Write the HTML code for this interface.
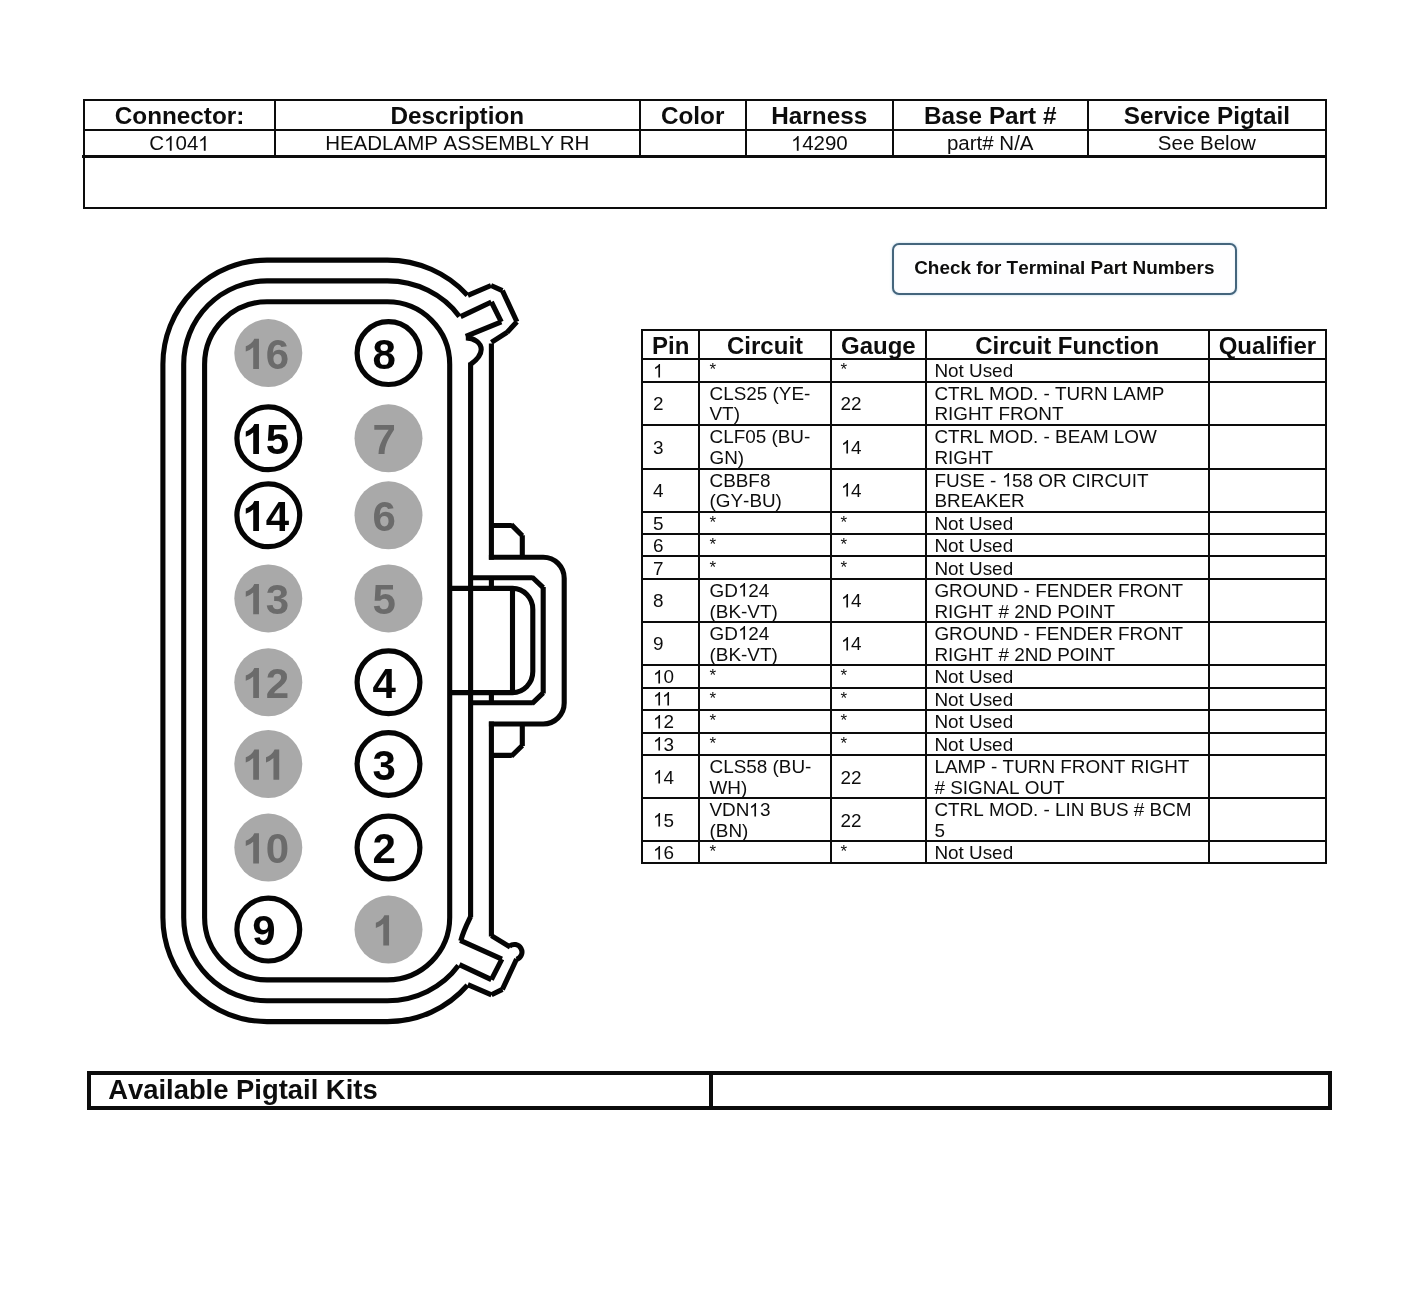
<!DOCTYPE html>
<html lang="en">
<head>
<meta charset="utf-8">
<title>C1041 HEADLAMP ASSEMBLY RH</title>
<style>
html,body{margin:0;padding:0;background:#fff;}
body{width:1406px;height:1300px;position:relative;overflow:hidden;font-family:"Liberation Sans",sans-serif;color:#0d0d0d;font-kerning:none;}
#page{position:absolute;left:0;top:0;width:1406px;height:1300px;background:#fff;transform:translateZ(0);will-change:transform;}
.l{position:absolute;}
.c{position:absolute;display:flex;align-items:center;white-space:nowrap;box-sizing:border-box;}
.th{justify-content:center;font-weight:bold;font-size:24px;line-height:27.6px;padding-top:2px;}
.th.t1{font-size:24.3px;padding-top:1.4px;}
.tv{justify-content:center;font-size:20.5px;line-height:23.5px;}
.td{font-size:18.9px;line-height:20.7px;padding-top:2.6px;}
.g1{display:inline-block;width:0.55615em;height:0.71875em;vertical-align:baseline;fill:currentColor;overflow:visible;}
.g1.k{margin-left:-0.074em;}
.ast{font-size:17px;padding-top:0.6px;}
.kit{font-weight:bold;font-size:27.4px;line-height:31px;}
.btn{position:absolute;left:891.5px;top:242.8px;width:345.7px;height:52.2px;box-sizing:border-box;border:2px solid #44657c;border-radius:7px;background:#fefeff;box-shadow:0 0 2.5px rgba(110,165,210,0.55),inset 0 0 2px rgba(110,165,210,0.22);font-weight:bold;font-size:18.9px;line-height:46.4px;text-align:center;white-space:nowrap;}
.conn{position:absolute;left:0;top:0;}
</style>
</head>
<body>
<div id="page">
<!-- connector header table -->
<div class="l" style="left:83.00px;top:99.10px;width:1243.90px;height:2.20px;background:#0c0c0c"></div>
<div class="l" style="left:83.00px;top:128.80px;width:1243.90px;height:2.00px;background:#0c0c0c"></div>
<div class="l" style="left:82.00px;top:155.00px;width:1244.90px;height:3.00px;background:#0c0c0c"></div>
<div class="l" style="left:83.00px;top:206.50px;width:1243.90px;height:2.00px;background:#0c0c0c"></div>
<div class="l" style="left:83.00px;top:100.20px;width:2.00px;height:107.30px;background:#0c0c0c"></div>
<div class="l" style="left:1324.90px;top:100.20px;width:2.00px;height:107.30px;background:#0c0c0c"></div>
<div class="l" style="left:274.10px;top:100.20px;width:2.00px;height:56.30px;background:#0c0c0c"></div>
<div class="l" style="left:638.50px;top:100.20px;width:2.00px;height:56.30px;background:#0c0c0c"></div>
<div class="l" style="left:744.80px;top:100.20px;width:2.00px;height:56.30px;background:#0c0c0c"></div>
<div class="l" style="left:891.70px;top:100.20px;width:2.00px;height:56.30px;background:#0c0c0c"></div>
<div class="l" style="left:1086.80px;top:100.20px;width:2.00px;height:56.30px;background:#0c0c0c"></div>
<div class="c th t1" style="left:84.0px;width:191.1px;top:100.2px;height:29.6px">Connector:</div>
<div class="c tv" style="left:84.0px;width:191.1px;top:129.8px;height:26.7px"><span>C<svg class="g1" viewBox="0 -1472 1139 1472"><path transform="scale(1,-1)" d="M763 0H583V1147Q518 1085 412.5 1023Q307 961 223 930V1104Q374 1175 487 1276Q600 1377 647 1472H763V0Z"/></svg>04<svg class="g1" viewBox="0 -1472 1139 1472"><path transform="scale(1,-1)" d="M763 0H583V1147Q518 1085 412.5 1023Q307 961 223 930V1104Q374 1175 487 1276Q600 1377 647 1472H763V0Z"/></svg></span></div>
<div class="c th t1" style="left:275.1px;width:364.4px;top:100.2px;height:29.6px">Description</div>
<div class="c tv" style="left:275.1px;width:364.4px;top:129.8px;height:26.7px"><span>HEADLAMP ASSEMBLY RH</span></div>
<div class="c th t1" style="left:639.5px;width:106.3px;top:100.2px;height:29.6px">Color</div>
<div class="c th t1" style="left:745.8px;width:146.9px;top:100.2px;height:29.6px">Harness</div>
<div class="c tv" style="left:745.8px;width:146.9px;top:129.8px;height:26.7px"><span><svg class="g1" viewBox="0 -1472 1139 1472"><path transform="scale(1,-1)" d="M763 0H583V1147Q518 1085 412.5 1023Q307 961 223 930V1104Q374 1175 487 1276Q600 1377 647 1472H763V0Z"/></svg>4290</span></div>
<div class="c th t1" style="left:892.7px;width:195.1px;top:100.2px;height:29.6px">Base Part #</div>
<div class="c tv" style="left:892.7px;width:195.1px;top:129.8px;height:26.7px"><span>part# N/A</span></div>
<div class="c th t1" style="left:1087.8px;width:238.1px;top:100.2px;height:29.6px">Service Pigtail</div>
<div class="c tv" style="left:1087.8px;width:238.1px;top:129.8px;height:26.7px"><span>See Below</span></div>
<!-- terminal part numbers button -->
<div class="btn">Check for Terminal Part Numbers</div>
<!-- pin table -->
<div class="l" style="left:641.30px;top:328.90px;width:685.90px;height:2.00px;background:#0c0c0c"></div>
<div class="l" style="left:641.30px;top:358.30px;width:685.90px;height:2.00px;background:#0c0c0c"></div>
<div class="l" style="left:641.30px;top:380.60px;width:685.90px;height:2.00px;background:#0c0c0c"></div>
<div class="l" style="left:641.30px;top:423.60px;width:685.90px;height:2.00px;background:#0c0c0c"></div>
<div class="l" style="left:641.30px;top:467.60px;width:685.90px;height:2.00px;background:#0c0c0c"></div>
<div class="l" style="left:641.30px;top:510.50px;width:685.90px;height:2.00px;background:#0c0c0c"></div>
<div class="l" style="left:641.30px;top:532.80px;width:685.90px;height:2.00px;background:#0c0c0c"></div>
<div class="l" style="left:641.30px;top:555.30px;width:685.90px;height:2.00px;background:#0c0c0c"></div>
<div class="l" style="left:641.30px;top:577.90px;width:685.90px;height:2.00px;background:#0c0c0c"></div>
<div class="l" style="left:641.30px;top:620.60px;width:685.90px;height:2.00px;background:#0c0c0c"></div>
<div class="l" style="left:641.30px;top:664.10px;width:685.90px;height:2.00px;background:#0c0c0c"></div>
<div class="l" style="left:641.30px;top:686.70px;width:685.90px;height:2.00px;background:#0c0c0c"></div>
<div class="l" style="left:641.30px;top:709.00px;width:685.90px;height:2.00px;background:#0c0c0c"></div>
<div class="l" style="left:641.30px;top:731.50px;width:685.90px;height:2.00px;background:#0c0c0c"></div>
<div class="l" style="left:641.30px;top:753.90px;width:685.90px;height:2.00px;background:#0c0c0c"></div>
<div class="l" style="left:641.30px;top:797.40px;width:685.90px;height:2.00px;background:#0c0c0c"></div>
<div class="l" style="left:641.30px;top:840.10px;width:685.90px;height:2.00px;background:#0c0c0c"></div>
<div class="l" style="left:641.30px;top:862.40px;width:685.90px;height:2.00px;background:#0c0c0c"></div>
<div class="l" style="left:641.30px;top:328.90px;width:2.00px;height:535.50px;background:#0c0c0c"></div>
<div class="l" style="left:698.10px;top:328.90px;width:2.00px;height:535.50px;background:#0c0c0c"></div>
<div class="l" style="left:830.00px;top:328.90px;width:2.00px;height:535.50px;background:#0c0c0c"></div>
<div class="l" style="left:924.70px;top:328.90px;width:2.00px;height:535.50px;background:#0c0c0c"></div>
<div class="l" style="left:1207.60px;top:328.90px;width:2.00px;height:535.50px;background:#0c0c0c"></div>
<div class="l" style="left:1325.20px;top:328.90px;width:2.00px;height:535.50px;background:#0c0c0c"></div>
<div class="c th" style="left:642.3px;width:56.8px;top:329.9px;height:29.4px">Pin</div>
<div class="c th" style="left:699.1px;width:131.9px;top:329.9px;height:29.4px">Circuit</div>
<div class="c th" style="left:831.0px;width:94.7px;top:329.9px;height:29.4px">Gauge</div>
<div class="c th" style="left:925.7px;width:282.9px;top:329.9px;height:29.4px">Circuit Function</div>
<div class="c th" style="left:1208.6px;width:117.6px;top:329.9px;height:29.4px">Qualifier</div>
<div class="c td" style="left:653.1px;top:359.3px;height:22.3px"><span><svg class="g1" viewBox="0 -1472 1139 1472"><path transform="scale(1,-1)" d="M763 0H583V1147Q518 1085 412.5 1023Q307 961 223 930V1104Q374 1175 487 1276Q600 1377 647 1472H763V0Z"/></svg></span></div>
<div class="c td ast" style="left:709.5px;top:359.3px;height:22.3px"><span>*</span></div>
<div class="c td ast" style="left:840.6px;top:359.3px;height:22.3px"><span>*</span></div>
<div class="c td" style="left:934.4px;top:359.3px;height:22.3px"><span>Not Used</span></div>
<div class="c td" style="left:653.1px;top:381.6px;height:43.0px"><span>2</span></div>
<div class="c td" style="left:709.5px;top:381.6px;height:43.0px"><span>CLS25 (YE-<br>VT)</span></div>
<div class="c td" style="left:840.6px;top:381.6px;height:43.0px"><span>22</span></div>
<div class="c td" style="left:934.4px;top:381.6px;height:43.0px"><span>CTRL MOD. - TURN LAMP<br>RIGHT FRONT</span></div>
<div class="c td" style="left:653.1px;top:424.6px;height:44.0px"><span>3</span></div>
<div class="c td" style="left:709.5px;top:424.6px;height:44.0px"><span>CLF05 (BU-<br>GN)</span></div>
<div class="c td" style="left:840.6px;top:424.6px;height:44.0px"><span><svg class="g1" viewBox="0 -1472 1139 1472"><path transform="scale(1,-1)" d="M763 0H583V1147Q518 1085 412.5 1023Q307 961 223 930V1104Q374 1175 487 1276Q600 1377 647 1472H763V0Z"/></svg>4</span></div>
<div class="c td" style="left:934.4px;top:424.6px;height:44.0px"><span>CTRL MOD. - BEAM LOW<br>RIGHT</span></div>
<div class="c td" style="left:653.1px;top:468.6px;height:42.9px"><span>4</span></div>
<div class="c td" style="left:709.5px;top:468.6px;height:42.9px"><span>CBBF8<br>(GY-BU)</span></div>
<div class="c td" style="left:840.6px;top:468.6px;height:42.9px"><span><svg class="g1" viewBox="0 -1472 1139 1472"><path transform="scale(1,-1)" d="M763 0H583V1147Q518 1085 412.5 1023Q307 961 223 930V1104Q374 1175 487 1276Q600 1377 647 1472H763V0Z"/></svg>4</span></div>
<div class="c td" style="left:934.4px;top:468.6px;height:42.9px"><span>FUSE - <svg class="g1" viewBox="0 -1472 1139 1472"><path transform="scale(1,-1)" d="M763 0H583V1147Q518 1085 412.5 1023Q307 961 223 930V1104Q374 1175 487 1276Q600 1377 647 1472H763V0Z"/></svg>58 OR CIRCUIT<br>BREAKER</span></div>
<div class="c td" style="left:653.1px;top:511.5px;height:22.3px"><span>5</span></div>
<div class="c td ast" style="left:709.5px;top:511.5px;height:22.3px"><span>*</span></div>
<div class="c td ast" style="left:840.6px;top:511.5px;height:22.3px"><span>*</span></div>
<div class="c td" style="left:934.4px;top:511.5px;height:22.3px"><span>Not Used</span></div>
<div class="c td" style="left:653.1px;top:533.8px;height:22.5px"><span>6</span></div>
<div class="c td ast" style="left:709.5px;top:533.8px;height:22.5px"><span>*</span></div>
<div class="c td ast" style="left:840.6px;top:533.8px;height:22.5px"><span>*</span></div>
<div class="c td" style="left:934.4px;top:533.8px;height:22.5px"><span>Not Used</span></div>
<div class="c td" style="left:653.1px;top:556.3px;height:22.6px"><span>7</span></div>
<div class="c td ast" style="left:709.5px;top:556.3px;height:22.6px"><span>*</span></div>
<div class="c td ast" style="left:840.6px;top:556.3px;height:22.6px"><span>*</span></div>
<div class="c td" style="left:934.4px;top:556.3px;height:22.6px"><span>Not Used</span></div>
<div class="c td" style="left:653.1px;top:578.9px;height:42.7px"><span>8</span></div>
<div class="c td" style="left:709.5px;top:578.9px;height:42.7px"><span>GD<svg class="g1" viewBox="0 -1472 1139 1472"><path transform="scale(1,-1)" d="M763 0H583V1147Q518 1085 412.5 1023Q307 961 223 930V1104Q374 1175 487 1276Q600 1377 647 1472H763V0Z"/></svg>24<br>(BK-VT)</span></div>
<div class="c td" style="left:840.6px;top:578.9px;height:42.7px"><span><svg class="g1" viewBox="0 -1472 1139 1472"><path transform="scale(1,-1)" d="M763 0H583V1147Q518 1085 412.5 1023Q307 961 223 930V1104Q374 1175 487 1276Q600 1377 647 1472H763V0Z"/></svg>4</span></div>
<div class="c td" style="left:934.4px;top:578.9px;height:42.7px"><span>GROUND - FENDER FRONT<br>RIGHT # 2ND POINT</span></div>
<div class="c td" style="left:653.1px;top:621.6px;height:43.5px"><span>9</span></div>
<div class="c td" style="left:709.5px;top:621.6px;height:43.5px"><span>GD<svg class="g1" viewBox="0 -1472 1139 1472"><path transform="scale(1,-1)" d="M763 0H583V1147Q518 1085 412.5 1023Q307 961 223 930V1104Q374 1175 487 1276Q600 1377 647 1472H763V0Z"/></svg>24<br>(BK-VT)</span></div>
<div class="c td" style="left:840.6px;top:621.6px;height:43.5px"><span><svg class="g1" viewBox="0 -1472 1139 1472"><path transform="scale(1,-1)" d="M763 0H583V1147Q518 1085 412.5 1023Q307 961 223 930V1104Q374 1175 487 1276Q600 1377 647 1472H763V0Z"/></svg>4</span></div>
<div class="c td" style="left:934.4px;top:621.6px;height:43.5px"><span>GROUND - FENDER FRONT<br>RIGHT # 2ND POINT</span></div>
<div class="c td" style="left:653.1px;top:665.1px;height:22.6px"><span><svg class="g1" viewBox="0 -1472 1139 1472"><path transform="scale(1,-1)" d="M763 0H583V1147Q518 1085 412.5 1023Q307 961 223 930V1104Q374 1175 487 1276Q600 1377 647 1472H763V0Z"/></svg>0</span></div>
<div class="c td ast" style="left:709.5px;top:665.1px;height:22.6px"><span>*</span></div>
<div class="c td ast" style="left:840.6px;top:665.1px;height:22.6px"><span>*</span></div>
<div class="c td" style="left:934.4px;top:665.1px;height:22.6px"><span>Not Used</span></div>
<div class="c td" style="left:653.1px;top:687.7px;height:22.3px"><span><svg class="g1" viewBox="0 -1472 1139 1472"><path transform="scale(1,-1)" d="M763 0H583V1147Q518 1085 412.5 1023Q307 961 223 930V1104Q374 1175 487 1276Q600 1377 647 1472H763V0Z"/></svg><svg class="g1 k" viewBox="0 -1472 1139 1472"><path transform="scale(1,-1)" d="M763 0H583V1147Q518 1085 412.5 1023Q307 961 223 930V1104Q374 1175 487 1276Q600 1377 647 1472H763V0Z"/></svg></span></div>
<div class="c td ast" style="left:709.5px;top:687.7px;height:22.3px"><span>*</span></div>
<div class="c td ast" style="left:840.6px;top:687.7px;height:22.3px"><span>*</span></div>
<div class="c td" style="left:934.4px;top:687.7px;height:22.3px"><span>Not Used</span></div>
<div class="c td" style="left:653.1px;top:710.0px;height:22.5px"><span><svg class="g1" viewBox="0 -1472 1139 1472"><path transform="scale(1,-1)" d="M763 0H583V1147Q518 1085 412.5 1023Q307 961 223 930V1104Q374 1175 487 1276Q600 1377 647 1472H763V0Z"/></svg>2</span></div>
<div class="c td ast" style="left:709.5px;top:710.0px;height:22.5px"><span>*</span></div>
<div class="c td ast" style="left:840.6px;top:710.0px;height:22.5px"><span>*</span></div>
<div class="c td" style="left:934.4px;top:710.0px;height:22.5px"><span>Not Used</span></div>
<div class="c td" style="left:653.1px;top:732.5px;height:22.4px"><span><svg class="g1" viewBox="0 -1472 1139 1472"><path transform="scale(1,-1)" d="M763 0H583V1147Q518 1085 412.5 1023Q307 961 223 930V1104Q374 1175 487 1276Q600 1377 647 1472H763V0Z"/></svg>3</span></div>
<div class="c td ast" style="left:709.5px;top:732.5px;height:22.4px"><span>*</span></div>
<div class="c td ast" style="left:840.6px;top:732.5px;height:22.4px"><span>*</span></div>
<div class="c td" style="left:934.4px;top:732.5px;height:22.4px"><span>Not Used</span></div>
<div class="c td" style="left:653.1px;top:754.9px;height:43.5px"><span><svg class="g1" viewBox="0 -1472 1139 1472"><path transform="scale(1,-1)" d="M763 0H583V1147Q518 1085 412.5 1023Q307 961 223 930V1104Q374 1175 487 1276Q600 1377 647 1472H763V0Z"/></svg>4</span></div>
<div class="c td" style="left:709.5px;top:754.9px;height:43.5px"><span>CLS58 (BU-<br>WH)</span></div>
<div class="c td" style="left:840.6px;top:754.9px;height:43.5px"><span>22</span></div>
<div class="c td" style="left:934.4px;top:754.9px;height:43.5px"><span>LAMP - TURN FRONT RIGHT<br># SIGNAL OUT</span></div>
<div class="c td" style="left:653.1px;top:798.4px;height:42.7px"><span><svg class="g1" viewBox="0 -1472 1139 1472"><path transform="scale(1,-1)" d="M763 0H583V1147Q518 1085 412.5 1023Q307 961 223 930V1104Q374 1175 487 1276Q600 1377 647 1472H763V0Z"/></svg>5</span></div>
<div class="c td" style="left:709.5px;top:798.4px;height:42.7px"><span>VDN<svg class="g1" viewBox="0 -1472 1139 1472"><path transform="scale(1,-1)" d="M763 0H583V1147Q518 1085 412.5 1023Q307 961 223 930V1104Q374 1175 487 1276Q600 1377 647 1472H763V0Z"/></svg>3<br>(BN)</span></div>
<div class="c td" style="left:840.6px;top:798.4px;height:42.7px"><span>22</span></div>
<div class="c td" style="left:934.4px;top:798.4px;height:42.7px"><span>CTRL MOD. - LIN BUS # BCM<br>5</span></div>
<div class="c td" style="left:653.1px;top:841.1px;height:22.3px"><span><svg class="g1" viewBox="0 -1472 1139 1472"><path transform="scale(1,-1)" d="M763 0H583V1147Q518 1085 412.5 1023Q307 961 223 930V1104Q374 1175 487 1276Q600 1377 647 1472H763V0Z"/></svg>6</span></div>
<div class="c td ast" style="left:709.5px;top:841.1px;height:22.3px"><span>*</span></div>
<div class="c td ast" style="left:840.6px;top:841.1px;height:22.3px"><span>*</span></div>
<div class="c td" style="left:934.4px;top:841.1px;height:22.3px"><span>Not Used</span></div>
<!-- pigtail kits -->
<div class="l" style="left:87.40px;top:1071.30px;width:1244.50px;height:3.70px;background:#0c0c0c"></div>
<div class="l" style="left:87.40px;top:1105.90px;width:1244.50px;height:3.70px;background:#0c0c0c"></div>
<div class="l" style="left:87.40px;top:1071.30px;width:3.70px;height:38.30px;background:#0c0c0c"></div>
<div class="l" style="left:1328.20px;top:1071.30px;width:3.70px;height:38.30px;background:#0c0c0c"></div>
<div class="l" style="left:709.10px;top:1071.30px;width:3.80px;height:38.30px;background:#0c0c0c"></div>
<div class="c kit" style="left:108.2px;padding-bottom:2.6px;top:1071.3px;height:38.3px">Available Pigtail Kits</div>
<svg class="conn" width="1406" height="1300" viewBox="0 0 1406 1300">
<g fill="none" stroke="#050505" stroke-width="5.1" stroke-linejoin="miter" stroke-linecap="butt">
<path d="M267.0,301.80 H387.3 A62.4,62.4 0 0 1 449.70,364.2 V917.5 A62.4,62.4 0 0 1 387.3,979.90 H267.0 A62.4,62.4 0 0 1 204.60,917.5 V364.2 A62.4,62.4 0 0 1 267.0,301.80 Z"/>
<path d="M459.40,316.44 A88.0,83.3 0 0 0 387.3,280.90 H267.0 A83.3,83.3 0 0 0 183.70,364.2 V917.5 A83.3,83.3 0 0 0 267.0,1000.80 H387.3 A87.0,83.3 0 0 0 458.40,965.51"/>
<path d="M460.60,316.60 L491.40,302.00 M491.40,302.00 L501.30,321.90 M501.30,321.90 L465.80,336.40"/>
<path d="M465.8,337.9 C474.3,337.8 481.2,343 481.2,349.4 C481.2,355.5 476.5,360 470.60,364.4 M470.60,362.5 V917.2"/>
<path d="M470.60,916.6 C467.0,924.0 463.0,932.0 460.8,940.8"/>
<path d="M460.20,940.40 L501.90,959.10 M501.90,959.10 L491.40,979.60 M491.40,979.60 L459.40,964.60"/>
<path d="M467.40,295.18 A107.0,104.1 0 0 0 387.3,260.10 H267.0 A104.1,104.1 0 0 0 162.90,364.2 V917.5 A104.1,104.1 0 0 0 267.0,1021.60 H387.3 A105.5,104.1 0 0 0 467.40,985.25"/>
<path d="M467.90,295.30 L491.00,285.50 M491.00,285.50 L502.40,290.60 M502.40,290.60 L516.90,321.80 M516.90,321.80 L507.00,332.40 M507.00,332.40 L491.40,342.40"/>
<path d="M491.40,343.6 V559.7"/>
<path d="M491.40,525.5 H511.8 M511.3,524.6 L522.3,535.7 M522.3,535.2 V557.2"/>
<path d="M488.90,557.2 H543.2 A21,21 0 0 1 564.2,578.2 V703.0 A21,21 0 0 1 543.2,724.0 H488.90"/>
<path d="M522.3,724.0 V746.0 M522.3,745.5 L511.3,756.3 M511.8,755.4 H491.40"/>
<path d="M491.40,721.5 V936.6"/>
<path d="M491.40,935.6 L510.2,947.0"/>
<path d="M509.3,946.4 A7.6,7.6 0 1 1 516.4,959.4"/>
<path d="M516.60,959.00 L502.40,989.40 M502.40,989.40 L491.50,994.80 M491.50,994.80 L467.80,984.60"/>
<path d="M470.60,577.8 H532.8 M532.0,577.0 L543.2,587.6 M543.2,587.0 V693.4 M543.2,692.8 L532.0,703.6 M532.8,702.8 H470.60"/>
<path d="M449.70,588.4 H512.5 A20.3,21 0 0 1 532.8,609.4 V671.6 A20.3,21 0 0 1 512.5,692.6 H449.70"/>
<path d="M512.5,588.4 V692.6"/>
<path d="M491.40,577.8 V588.4 M491.40,692.6 V702.8"/>
</g>
<g style="font-family:'Liberation Sans',sans-serif;font-weight:bold;font-size:42px">
<circle cx="268.3" cy="353.1" r="34.0" fill="#a9a9a9"/>
<path d="M806 0H525V1059Q371 915 162 846V1101Q272 1137 401 1237.5Q530 1338 578 1472H806V0Z" transform="translate(242.44,368.90) scale(0.02051,-0.02051)" fill="#6b6b6b"/>
<text x="265.80" y="368.90" fill="#6b6b6b">6</text>
<circle cx="268.3" cy="438.3" r="31.4" fill="#fff" stroke="#050505" stroke-width="5.2"/>
<path d="M806 0H525V1059Q371 915 162 846V1101Q272 1137 401 1237.5Q530 1338 578 1472H806V0Z" transform="translate(242.44,454.10) scale(0.02051,-0.02051)" fill="#050505"/>
<text x="265.80" y="454.10" fill="#050505">5</text>
<circle cx="268.3" cy="515.3" r="31.4" fill="#fff" stroke="#050505" stroke-width="5.2"/>
<path d="M806 0H525V1059Q371 915 162 846V1101Q272 1137 401 1237.5Q530 1338 578 1472H806V0Z" transform="translate(242.44,531.10) scale(0.02051,-0.02051)" fill="#050505"/>
<text x="265.80" y="531.10" fill="#050505">4</text>
<circle cx="268.3" cy="598.4" r="34.0" fill="#a9a9a9"/>
<path d="M806 0H525V1059Q371 915 162 846V1101Q272 1137 401 1237.5Q530 1338 578 1472H806V0Z" transform="translate(242.44,614.20) scale(0.02051,-0.02051)" fill="#6b6b6b"/>
<text x="265.80" y="614.20" fill="#6b6b6b">3</text>
<circle cx="268.3" cy="682.3" r="34.0" fill="#a9a9a9"/>
<path d="M806 0H525V1059Q371 915 162 846V1101Q272 1137 401 1237.5Q530 1338 578 1472H806V0Z" transform="translate(242.44,698.10) scale(0.02051,-0.02051)" fill="#6b6b6b"/>
<text x="265.80" y="698.10" fill="#6b6b6b">2</text>
<circle cx="268.3" cy="764.0" r="34.0" fill="#a9a9a9"/>
<path d="M806 0H525V1059Q371 915 162 846V1101Q272 1137 401 1237.5Q530 1338 578 1472H806V0Z" transform="translate(242.44,779.80) scale(0.02051,-0.02051)" fill="#6b6b6b"/>
<path d="M806 0H525V1059Q371 915 162 846V1101Q272 1137 401 1237.5Q530 1338 578 1472H806V0Z" transform="translate(262.68,779.80) scale(0.02051,-0.02051)" fill="#6b6b6b"/>
<circle cx="268.3" cy="847.6" r="34.0" fill="#a9a9a9"/>
<path d="M806 0H525V1059Q371 915 162 846V1101Q272 1137 401 1237.5Q530 1338 578 1472H806V0Z" transform="translate(242.44,863.40) scale(0.02051,-0.02051)" fill="#6b6b6b"/>
<text x="265.80" y="863.40" fill="#6b6b6b">0</text>
<circle cx="268.3" cy="929.6" r="31.4" fill="#fff" stroke="#050505" stroke-width="5.2"/>
<text x="252.32" y="945.40" fill="#050505">9</text>
<circle cx="388.5" cy="353.1" r="31.4" fill="#fff" stroke="#050505" stroke-width="5.2"/>
<text x="372.52" y="368.90" fill="#050505">8</text>
<circle cx="388.5" cy="438.3" r="34.0" fill="#a9a9a9"/>
<text x="372.52" y="454.10" fill="#6b6b6b">7</text>
<circle cx="388.5" cy="515.3" r="34.0" fill="#a9a9a9"/>
<text x="372.52" y="531.10" fill="#6b6b6b">6</text>
<circle cx="388.5" cy="598.4" r="34.0" fill="#a9a9a9"/>
<text x="372.52" y="614.20" fill="#6b6b6b">5</text>
<circle cx="388.5" cy="682.3" r="31.4" fill="#fff" stroke="#050505" stroke-width="5.2"/>
<text x="372.52" y="698.10" fill="#050505">4</text>
<circle cx="388.5" cy="764.0" r="31.4" fill="#fff" stroke="#050505" stroke-width="5.2"/>
<text x="372.52" y="779.80" fill="#050505">3</text>
<circle cx="388.5" cy="847.6" r="31.4" fill="#fff" stroke="#050505" stroke-width="5.2"/>
<text x="372.52" y="863.40" fill="#050505">2</text>
<circle cx="388.5" cy="929.6" r="34.0" fill="#a9a9a9"/>
<path d="M806 0H525V1059Q371 915 162 846V1101Q272 1137 401 1237.5Q530 1338 578 1472H806V0Z" transform="translate(372.52,945.40) scale(0.02051,-0.02051)" fill="#6b6b6b"/>
</g></svg>
</div>
</body>
</html>
